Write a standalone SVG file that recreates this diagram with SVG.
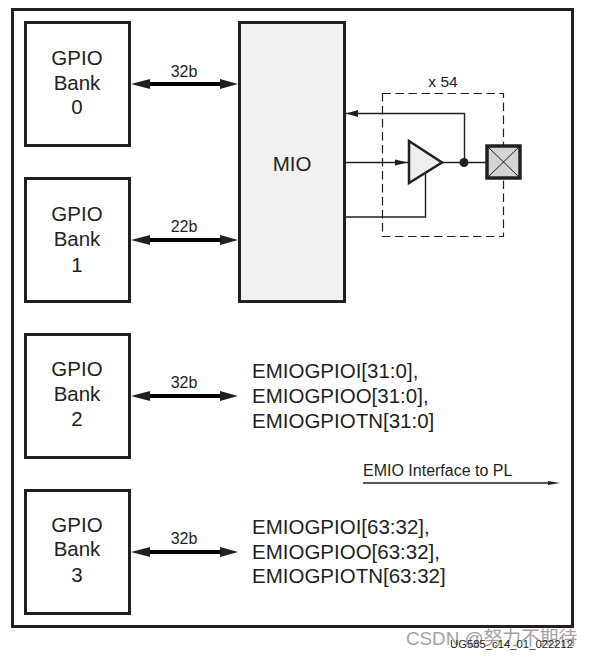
<svg xmlns="http://www.w3.org/2000/svg" width="592" height="658" viewBox="0 0 592 658">
<style>
text{font-family:"Liberation Sans",Arial,sans-serif;fill:#231f20}
.box{fill:#fff;stroke:#231f20;stroke-width:3}
.bank{font-size:20.500px;text-anchor:middle}
.lbl{font-size:16px;text-anchor:middle}
.sig{font-size:20.500px}
.bus{stroke:#000;stroke-width:4;fill:none}
.thin{stroke:#231f20;stroke-width:1.400;fill:none}
.head{fill:#231f20}
</style>
<rect width="592" height="658" fill="#fff"/>
<rect id="frame" x="12.500" y="9.500" width="560" height="617" fill="none" stroke="#231f20" stroke-width="3"/>
<g id="bank0"><rect class="box" x="25.500" y="22.500" width="104" height="123"/><text class="bank" x="77" y="65">GPIO</text><text class="bank" x="77" y="90">Bank</text><text class="bank" x="77" y="114">0</text></g>
<g id="bank1"><rect class="box" x="25.500" y="178.500" width="104" height="123"/><text class="bank" x="77" y="221">GPIO</text><text class="bank" x="77" y="246">Bank</text><text class="bank" x="77" y="272">1</text></g>
<g id="bank2"><rect class="box" x="25.500" y="334.500" width="104" height="123"/><text class="bank" x="77" y="376">GPIO</text><text class="bank" x="77" y="401">Bank</text><text class="bank" x="77" y="426">2</text></g>
<g id="bank3"><rect class="box" x="25.500" y="490.500" width="104" height="123"/><text class="bank" x="77" y="532">GPIO</text><text class="bank" x="77" y="556">Bank</text><text class="bank" x="77" y="582">3</text></g>
<g id="mio"><rect x="239.500" y="22.500" width="105" height="279" fill="#f1f1f2" stroke="#231f20" stroke-width="3"/><text x="292" y="171" font-size="20.500" text-anchor="middle">MIO</text></g>
<g id="connectors">
<g id="bus0"><path class="bus" d="M148 84H221"/><path class="head" d="M131 84L150 79V89ZM238 84L220 79V89Z"/></g>
<g id="bus1"><path class="bus" d="M148 240H221"/><path class="head" d="M131 240L150 235V245ZM238 240L220 235V245Z"/></g>
<g id="bus2"><path class="bus" d="M148 396H221"/><path class="head" d="M131 396L150 391V401ZM238 396L220 391V401Z"/></g>
<g id="bus3"><path class="bus" d="M148 552H221"/><path class="head" d="M131 552L150 547V557ZM238 552L220 547V557Z"/></g>
<path class="thin" d="M346 113.500H464.500V162M346 162.500H408M346 217H425.500V173M442 162.500H486"/>
<path class="head" d="M346 113.500L358 110V117ZM408 162.500L395 159.500V165.500Z"/>
<circle cx="464" cy="162.500" r="4.500" fill="#231f20"/>
<path class="thin" d="M363 483H548"/><path class="head" d="M560 483L548 481V485Z"/>
</g>
<g id="dashed"><rect x="382.500" y="93.500" width="121" height="143" fill="none" stroke="#231f20" stroke-width="1.200" stroke-dasharray="8.500 4.500"/></g>
<g id="buffer"><path d="M409 141V183L442 162.500Z" fill="#eeeeef" stroke="#231f20" stroke-width="2.500"/></g>
<g id="pad"><rect x="487" y="146" width="33" height="32" fill="#d1d3d4" stroke="#231f20" stroke-width="3.500"/><path d="M488 147L519 177M519 147L488 177" stroke="#231f20" stroke-width="1" fill="none"/></g>
<text class="lbl" x="184" y="77">32b</text>
<text class="lbl" x="184" y="232">22b</text>
<text class="lbl" x="184" y="388">32b</text>
<text class="lbl" x="184" y="544">32b</text>
<text x="443" y="87" font-size="15.500" text-anchor="middle">x 54</text>
<text class="sig" x="252" y="378">EMIOGPIOI[31:0],</text>
<text class="sig" x="252" y="403">EMIOGPIOO[31:0],</text>
<text class="sig" x="252" y="428">EMIOGPIOTN[31:0]</text>
<text class="sig" x="252" y="534">EMIOGPIOI[63:32],</text>
<text class="sig" x="252" y="559">EMIOGPIOO[63:32],</text>
<text class="sig" x="252" y="583">EMIOGPIOTN[63:32]</text>
<text x="363" y="476" font-size="16">EMIO Interface to PL</text>
<text x="406" y="645" font-size="18.800" style="font-family:'Liberation Sans','Noto Sans CJK SC',sans-serif;fill:#8c8c8c" opacity="0.8">CSDN @努力不期待</text>
<text x="450" y="648" font-size="11.300" fill="#000">UG585_c14_01_022212</text>
</svg>
